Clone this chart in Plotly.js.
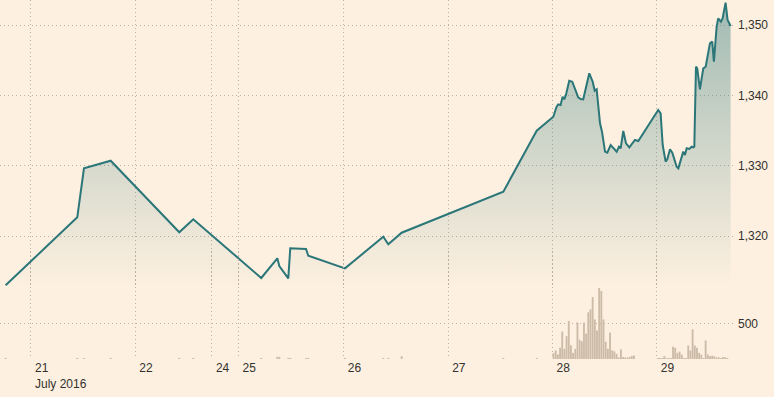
<!DOCTYPE html>
<html>
<head>
<meta charset="utf-8">
<script src="https://cdn.plot.ly/plotly-3.0.1.min.js"></script>
<style>html,body{margin:0;padding:0;background:#fdf0e0;}</style>
</head>
<body>
<div id="chart" style="width:774px;height:397px;"></div>
<script>
// Session time in days since 21 July 2016 (trading-time axis, weekend compressed)
var tickVals = [0, 1, 1.735, 1.99, 3, 4, 5, 6];
var tickText = ['21<br>July 2016', '22', '24', '25', '26', '27', '28', '29'];

var priceT = [-0.243, 0.444, 0.508, 0.764, 1.422, 1.556, 2.208, 2.362, 2.381, 2.467, 2.486, 2.637, 2.659,
  3.011, 3.378, 3.426, 3.554, 4.529, 4.849, 5.008, 5.04, 5.056, 5.078, 5.097, 5.113, 5.129, 5.161, 5.19,
  5.247, 5.27, 5.295, 5.321, 5.353, 5.386, 5.405, 5.424, 5.456, 5.475, 5.504, 5.526, 5.558, 5.616, 5.638,
  5.654, 5.679, 5.705, 5.737, 5.791, 5.823, 6.014, 6.037, 6.057, 6.085, 6.101, 6.127, 6.149, 6.191,
  6.207, 6.229, 6.254, 6.27, 6.287, 6.312, 6.335, 6.35, 6.36, 6.376, 6.388, 6.414, 6.446, 6.469, 6.494,
  6.51, 6.532, 6.548, 6.574, 6.589, 6.615, 6.631, 6.66, 6.679, 6.708];
var price = [1313.0, 1322.66, 1329.63, 1330.71, 1320.53, 1322.38, 1314.03, 1316.83, 1315.73, 1313.98, 1318.25,
  1318.15, 1317.2, 1315.4, 1319.9, 1318.82, 1320.47, 1326.3, 1334.98, 1336.97, 1338.39, 1338.73, 1338.63,
  1339.82, 1339.44, 1340.06, 1342.09, 1341.95, 1339.73, 1339.49, 1339.44, 1341.0, 1343.14, 1341.95, 1340.67,
  1340.87, 1336.03, 1334.84, 1332.0, 1331.85, 1332.94, 1332.0, 1332.7, 1332.48, 1334.94, 1333.19, 1332.62,
  1333.66, 1333.51, 1337.92, 1337.45, 1332.94, 1330.57, 1330.91, 1332.33, 1331.85, 1329.86, 1329.63,
  1330.81, 1332.0, 1331.52, 1332.48, 1332.38, 1332.7, 1332.62, 1332.7, 1344.08, 1343.85, 1340.87, 1343.85,
  1344.08, 1346.46, 1347.41, 1347.64, 1344.79, 1349.77, 1350.96, 1350.48, 1350.96, 1353.19, 1350.73, 1349.87];

// Sparse volume at the thin-trading points
var sparseVolT = [-0.243, 0.444, 0.508, 0.764, 1.422, 1.556, 2.208, 2.362, 2.381, 2.467, 2.486, 2.637, 2.659,
  3.011, 3.378, 3.426, 3.554, 4.529, 4.849];
var sparseVol = [15, 15, 15, 15, 15, 15, 15, 30, 30, 15, 15, 15, 15, 15, 15, 15, 40, 15, 15];

// Half-hourly volume, 28 July and 29 July
var day28Start = 5, day29Start = 6, slot = 1 / 48;
var vol28 = [86, 122, 65, 158, 388, 144, 323, 539, 194, 86, 144, 517, 273, 251, 517, 359, 661, 704, 877, 560,
  402, 1006, 963, 560, 244, 144, 374, 122, 108, 72, 22, 137, 29, 22, 22, 29, 43, 50];
var vol29 = [14, 14, 14, 43, 14, 14, 14, 172, 158, 86, 105, 62, 14, 14, 191, 119, 421, 191, 158, 86, 62, 14,
  263, 62, 39, 47, 39, 24, 24, 14, 29, 24, 14];

var volT = [], vol = [];
sparseVolT.forEach(function (t, i) { volT.push(t); vol.push(sparseVol[i]); });
vol28.forEach(function (v, i) { volT.push(day28Start + (i + 0.5) * slot); vol.push(v); });
vol29.forEach(function (v, i) { volT.push(day29Start + (i + 0.5) * slot); vol.push(v); });

var priceTicks = [1320, 1330, 1340, 1350];
var priceTickText = ['1,320', '1,330', '1,340', '1,350'];
var volTicks = [500];
var volTickText = ['500'];

var bg = '#fdf0e0';
var gridC = '#bdb1a1';
var font = {family: 'Liberation Sans, Arial, sans-serif', size: 12, color: '#33302e'};

var traces = [
  {
    type: 'bar', x: volT, y: vol, xaxis: 'x', yaxis: 'y2',
    width: slot * 0.85,
    marker: {color: '#cbbba7', line: {width: 0}},
    hoverinfo: 'skip'
  },
  {
    type: 'scatter', mode: 'lines', x: priceT, y: price, xaxis: 'x', yaxis: 'y',
    line: {color: '#2b7679', width: 2},
    fill: 'tozeroy',
    fillgradient: {
      type: 'vertical',
      start: 1312.72, stop: 1353.57,
      colorscale: [[0, 'rgba(43,118,121,0)'], [0.12, 'rgba(43,118,121,0.05)'], [1, 'rgba(43,118,121,0.44)']]
    },
    hoverinfo: 'skip'
  }
];

var layout = {
  width: 774, height: 397,
  margin: {l: 0, r: 41, t: 0, b: 38},
  paper_bgcolor: bg, plot_bgcolor: 'rgba(0,0,0,0)',
  showlegend: false,
  font: font,
  xaxis: {
    anchor: 'y2',
    range: [-0.297, 6.731],
    tickmode: 'array', tickvals: tickVals, ticktext: tickText,
    ticklabelposition: 'outside right', ticklabelshift: 4,
    ticks: '', showline: false, zeroline: false,
    showgrid: true, gridcolor: gridC, griddash: '1px,3px', gridwidth: 1,
    tickfont: font
  },
  yaxis: {
    domain: [0.2, 1], anchor: 'x', side: 'right',
    range: [1312.72, 1353.57],
    tickmode: 'array', tickvals: priceTicks, ticktext: priceTickText,
    ticks: '', showline: false, zeroline: false,
    showgrid: true, gridcolor: gridC, griddash: '1px,3px', gridwidth: 1,
    tickfont: font, ticklabelstandoff: 4
  },
  yaxis2: {
    domain: [0, 0.3], anchor: 'x', side: 'right',
    range: [0, 1525],
    tickmode: 'array', tickvals: volTicks, ticktext: volTickText,
    ticks: '', showline: false, zeroline: false,
    showgrid: true, gridcolor: gridC, griddash: '1px,3px', gridwidth: 1,
    tickfont: font, ticklabelstandoff: 4
  }
};

Plotly.newPlot('chart', traces, layout, {displayModeBar: false, staticPlot: true});
</script>
</body>
</html>
